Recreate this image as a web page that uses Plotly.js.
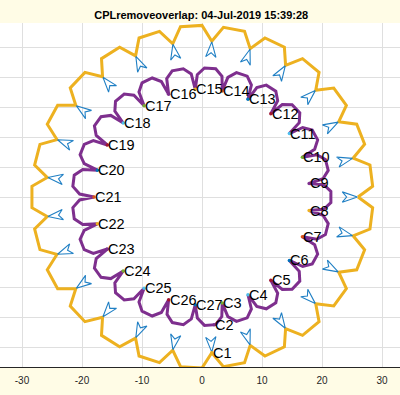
<!DOCTYPE html>
<html>
<head>
<meta charset="utf-8">
<script src="https://cdn.plot.ly/plotly-3.0.1.min.js"></script>
<style>html,body{margin:0;padding:0;background:#fffce6;}#chart{width:400px;height:395px;}</style>
</head>
<body>
<div id="chart"></div>
<script>
// Outer (gold) contour, read in polar form: angle (deg) and radius
const orangeAngle = [0, 3.6, 10.8, 14.4, 18, 25.2, 28.8, 32.4, 39.6, 43.2, 46.8, 54, 57.6, 61.2, 68.4, 72, 75.6, 82.8, 86.4, 90, 97.2, 100.8, 104.4, 111.6, 115.2, 118.8, 126, 129.6, 133.2, 140.4, 144, 147.6, 154.8, 158.4, 162, 169.2, 172.8, 176.4, 183.6, 187.2, 190.8, 198, 201.6, 205.2, 212.4, 216, 219.6, 226.8, 230.4, 234, 241.2, 244.8, 248.4, 255.6, 259.2, 262.8, 270, 273.6, 277.2, 284.4, 288, 291.6, 298.8, 302.4, 306, 313.2, 316.8, 320.4, 327.6, 331.2, 334.8, 342, 345.6, 349.2, 356.4, 360];
const orangeRadius = [26, 28.5, 28.5, 26, 28.5, 28.5, 26, 28.5, 28.5, 26, 28.5, 28.5, 26, 28.5, 28.5, 26, 28.5, 28.5, 26, 28.6, 28.6, 26, 28.5, 28.5, 26, 28.5, 28.5, 26, 28.5, 28.5, 26, 28.5, 28.5, 26, 28.4, 28.4, 26, 28.4, 28.4, 26, 28.4, 28.4, 26, 28.5, 28.5, 26, 28.5, 28.5, 26, 28.5, 28.5, 26, 28.5, 28.5, 26, 28.5, 28.5, 26, 28.5, 28.5, 26, 28.5, 28.5, 26, 28.5, 28.5, 26, 28.5, 28.5, 26, 28.5, 28.5, 26, 28.5, 28.5, 26];

// Inner (purple) contour
const purpleAngle = [7.2, 8.6, 11.9, 16.9, 20.2, 21.6, 23.0, 26.3, 31.3, 34.6, 36, 37.4, 40.7, 45.7, 49.0, 50.4, 51.8, 55.1, 60.1, 63.4, 64.8, 66.2, 69.5, 74.5, 77.8, 79.2, 80.6, 83.9, 88.9, 92.2, 93.6, 95.0, 98.3, 103.3, 106.6, 108, 109.4, 112.7, 117.7, 121.0, 122.4, 123.8, 127.1, 132.1, 135.4, 136.8, 138.2, 141.5, 146.5, 149.8, 151.2, 152.6, 155.9, 160.9, 164.2, 165.6, 167.0, 170.3, 175.3, 178.6, 180, 181.4, 184.7, 189.7, 193.0, 194.4, 195.8, 199.1, 204.1, 207.4, 208.8, 210.2, 213.5, 218.5, 221.8, 223.2, 224.6, 227.9, 232.9, 236.2, 237.6, 239.0, 242.3, 247.3, 250.6, 252, 253.4, 256.7, 261.7, 265.0, 266.4, 267.8, 271.1, 276.1, 279.4, 280.8, 282.2, 285.5, 290.5, 293.8, 295.2, 296.6, 299.9, 304.9, 308.2, 309.6, 311.0, 314.3, 319.3, 322.6, 324, 325.4, 328.7, 333.7, 337.0, 338.4, 339.8, 343.1, 348.1, 351.4, 352.8, 354.2, 357.5, 362.5, 365.8, 367.2];
const purpleRadius = [18, 20.4, 21.5, 21.5, 20.4, 18, 20.4, 21.5, 21.5, 20.4, 18, 20.4, 21.5, 21.5, 20.4, 18, 20.4, 21.5, 21.5, 20.4, 18, 20.4, 21.5, 21.5, 20.4, 18, 20.4, 21.5, 21.5, 20.4, 18, 20.6, 21.6, 21.6, 20.6, 18, 20.4, 21.5, 21.5, 20.4, 18, 20.4, 21.5, 21.5, 20.4, 18, 20.4, 21.5, 21.5, 20.4, 18, 20.4, 21.5, 21.5, 20.4, 18, 20.4, 21.6, 21.6, 20.4, 18, 20.4, 21.6, 21.6, 20.4, 18, 20.4, 21.5, 21.5, 20.4, 18, 20.4, 21.5, 21.5, 20.4, 18, 20.4, 21.5, 21.5, 20.4, 18, 20.4, 21.5, 21.5, 20.4, 18, 20.4, 21.5, 21.5, 20.4, 18, 20.2, 21.4, 21.4, 20.2, 18, 20.4, 21.5, 21.5, 20.4, 18, 20.4, 21.5, 21.5, 20.4, 18, 20.4, 21.5, 21.5, 20.4, 18, 20.4, 21.5, 21.5, 20.4, 18, 20.4, 21.5, 21.5, 20.4, 18, 20.4, 21.5, 21.5, 20.4, 18];

// Small blue cones at the gold cusps (null separates shapes)
const triAngle = [
 0,-2.1,0,2.1,0,null, 14.4,12.3,14.4,16.5,14.4,null, 28.8,26.7,28.8,30.9,28.8,null, 43.2,41.1,43.2,45.3,43.2,null,
 57.6,55.5,57.6,59.7,57.6,null, 72,69.9,72,74.1,72,null, 86.4,84.3,86.4,88.5,86.4,null, 100.8,98.7,100.8,102.9,100.8,null,
 115.2,113.1,115.2,117.3,115.2,null, 129.6,127.5,129.6,131.7,129.6,null, 144,141.9,144,146.1,144,null, 158.4,156.3,158.4,160.5,158.4,null,
 172.8,170.7,172.8,174.9,172.8,null, 187.2,185.1,187.2,189.3,187.2,null, 201.6,199.5,201.6,203.7,201.6,null, 216,213.9,216,218.1,216,null,
 230.4,228.3,230.4,232.5,230.4,null, 244.8,242.7,244.8,246.9,244.8,null, 259.2,257.1,259.2,261.3,259.2,null, 273.6,271.5,273.6,275.7,273.6,null,
 288,285.9,288,290.1,288,null, 302.4,300.3,302.4,304.5,302.4,null, 316.8,314.7,316.8,318.9,316.8,null, 331.2,329.1,331.2,333.3,331.2,null,
 345.6,343.5,345.6,347.7,345.6];
const triRadius = [
 25.9,23.4,24.1,23.4,25.9,null, 25.9,23.4,24.1,23.4,25.9,null, 25.9,23.4,24.1,23.4,25.9,null, 25.9,23.4,24.1,23.4,25.9,null,
 25.9,23.4,24.1,23.4,25.9,null, 25.9,23.4,24.1,23.4,25.9,null, 25.9,23.4,24.1,23.4,25.9,null, 25.9,23.4,24.1,23.4,25.9,null,
 25.9,23.4,24.1,23.4,25.9,null, 25.9,23.4,24.1,23.4,25.9,null, 25.9,23.4,24.1,23.4,25.9,null, 25.9,23.4,24.1,23.4,25.9,null,
 25.9,23.4,24.1,23.4,25.9,null, 25.9,23.4,24.1,23.4,25.9,null, 25.9,23.4,24.1,23.4,25.9,null, 25.9,23.4,24.1,23.4,25.9,null,
 25.9,23.4,24.1,23.4,25.9,null, 25.9,23.4,24.1,23.4,25.9,null, 25.9,23.4,24.1,23.4,25.9,null, 25.9,23.4,24.1,23.4,25.9,null,
 25.9,23.4,24.1,23.4,25.9,null, 25.9,23.4,24.1,23.4,25.9,null, 25.9,23.4,24.1,23.4,25.9,null, 25.9,23.4,24.1,23.4,25.9,null,
 25.9,23.4,24.1,23.4,25.9];

// Contour labels
const labelText = ['C1','C2','C3','C4','C5','C6','C7','C8','C9','C10','C11','C12','C13','C14','C15','C16','C17','C18','C19','C20','C21','C22','C23','C24','C25','C26','C27'];
const labelAngle = [273.6, 275.4, 280.8, 295.2, 309.6, 324, 338.4, 352.8, 7.2, 21.6, 36, 50.4, 64.8, 79.2, 93.6, 108, 122.4, 136.8, 151.2, 165.6, 180, 194.4, 208.8, 223.2, 237.6, 252, 266.4];
const labelRadius = [26, 21.4, 18, 18, 18, 18, 18, 18, 18, 18, 18, 18, 18, 18, 18, 18, 18, 18, 18, 18, 18, 18, 18, 18, 18, 18, 18];
const labelColor = ['#EDB120','#7E2F8E','#77AC30','#4DBEEE','#A2142F','#0072BD','#D95319','#EDB120','#7E2F8E','#77AC30','#4DBEEE','#A2142F','#0072BD','#D95319','#EDB120','#7E2F8E','#77AC30','#4DBEEE','#A2142F','#0072BD','#D95319','#EDB120','#7E2F8E','#77AC30','#4DBEEE','#A2142F','#0072BD'];

const xTicks = [-30, -20, -10, 0, 10, 20, 30];
const xTickText = ['-30', '-20', '-10', '0', '10', '20', '30'];
const yTicks = [-25, -20, -15, -10, -5, 0, 5, 10, 15, 20, 25];

function toXY(ang, rad) {
  const x = ang.map((a, i) => a === null ? null : rad[i] * Math.cos(a * Math.PI / 180));
  const y = ang.map((a, i) => a === null ? null : rad[i] * Math.sin(a * Math.PI / 180));
  return {x, y};
}
const o = toXY(orangeAngle, orangeRadius);
const p = toXY(purpleAngle, purpleRadius);
const t = toXY(triAngle, triRadius);
const l = toXY(labelAngle, labelRadius);

const font = 'Liberation Sans, Arial, Helvetica, sans-serif';
const traces = [
  {x: o.x, y: o.y, mode: 'lines', line: {color: '#EDB120', width: 3}, hoverinfo: 'skip'},
  {x: p.x, y: p.y, mode: 'lines', line: {color: '#7E2F8E', width: 3}, hoverinfo: 'skip'},
  {x: t.x, y: t.y, mode: 'lines', connectgaps: false, line: {color: '#1f7fc4', width: 1.1}, hoverinfo: 'skip'},
  {x: l.x, y: l.y, mode: 'markers', marker: {color: labelColor, size: 3.5}, hoverinfo: 'skip'}
];
const annotations = labelText.map((s, i) => ({
  x: l.x[i], y: l.y[i], xref: 'x', yref: 'y', text: s, showarrow: false,
  xanchor: 'left', yanchor: 'middle', borderpad: 0, xshift: 0,
  font: {family: font, size: 14.5, color: '#000000'}
}));
const layout = {
  width: 400, height: 395,
  margin: {l: 0, r: 0, t: 23, b: 28, pad: 0},
  paper_bgcolor: '#fffce6', plot_bgcolor: '#ffffff',
  showlegend: false,
  title: {text: '<b>CPLremoveoverlap: 04-Jul-2019 15:39:28</b>', font: {family: font, size: 11, color: '#000000'},
          x: 0.503, xanchor: 'center', y: 0.961, yanchor: 'middle', yref: 'container'},
  xaxis: {range: [-33.667, 33], tickvals: xTicks, ticktext: xTickText, showgrid: true, gridcolor: '#dfdfdf', gridwidth: 1,
          zeroline: false, showline: true, linecolor: '#262626', linewidth: 1, ticks: '', ticklabelstandoff: 4,
          tickfont: {family: font, size: 10, color: '#262626'}, fixedrange: true},
  yaxis: {range: [-28.333, 29.0], tickvals: yTicks, showticklabels: false, showgrid: true, gridcolor: '#dfdfdf', gridwidth: 1,
          zeroline: false, showline: false, ticks: '', fixedrange: true},
  annotations: annotations
};
Plotly.newPlot('chart', traces, layout, {displayModeBar: false, staticPlot: true});
</script>
</body>
</html>
